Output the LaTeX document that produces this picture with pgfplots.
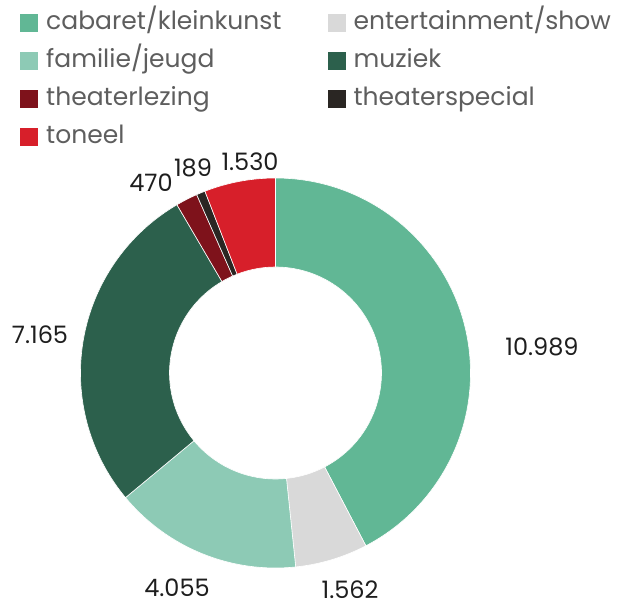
\documentclass[border=0pt]{standalone}
\usepackage{pgfplots}
\usepackage{pgfplotstable}
\pgfplotsset{compat=1.18}
\usepackage{fontspec}
\setmainfont{Poppins}

\definecolor{cCab}{HTML}{61B795}
\definecolor{cEnt}{HTML}{D9D9D9}
\definecolor{cFam}{HTML}{8DCAB5}
\definecolor{cMuz}{HTML}{2C604C}
\definecolor{cLez}{HTML}{7E121B}
\definecolor{cSpe}{HTML}{2A2623}
\definecolor{cTon}{HTML}{D71F2A}
\definecolor{legtext}{HTML}{5E5E5E}
\definecolor{labtext}{HTML}{1E1E1E}

% value per genre, label position (axis units = bp)
\pgfplotstableread{
name                value colour lx  ly
cabaret/kleinkunst  10989 cCab   542 261
entertainment/show  1562  cEnt   350 18
familie/jeugd       4055  cFam   177 20
muziek              7165  cMuz   40  273
theaterlezing       470   cLez   151 425
theaterspecial      189   cSpe   193 440
toneel              1530  cTon   250 446
}\piedata

% cumulative sums (in thousands, to stay inside pgfmath range)
\gdef\cum{0}
\pgfplotstableforeachcolumnelement{value}\of\piedata\as\v{%
  \expandafter\xdef\csname cs\pgfplotstablerow\endcsname{\cum}%
  \pgfmathsetmacro\tmpcum{\cum+\v/1000}%
  \xdef\cum{\tmpcum}%
  \expandafter\xdef\csname ce\pgfplotstablerow\endcsname{\cum}%
}
\let\total\cum

\def\cx{275.5}
\def\cy{235}

\begin{document}
\begin{tikzpicture}
\begin{axis}[
    at={(0,0)}, anchor=south west,
    x=1bp, y=1bp,
    xmin=0, xmax=636, ymin=0, ymax=608,
    hide axis, clip=false,
    legend columns=2,
    legend image code/.code={\path[#1] (0bp,-9bp) rectangle (18bp,9bp);},
    legend style={at={(axis cs:20,598)}, anchor=north west,
        draw=none, fill=none, inner sep=0pt,
        font=\fontsize{25bp}{29bp}\selectfont, text=legtext,
        cells={anchor=west},
        nodes={inner sep=0pt, text height=19bp, text depth=6bp},
        row sep=13bp,
        /tikz/every odd column/.append style={column sep=8bp},
        /tikz/every even column/.append style={column sep=46bp}},
]
\pgfplotsinvokeforeach{0,...,6}{
    \pgfmathsetmacro\aS{90-360*\csname cs#1\endcsname/\total}
    \pgfmathsetmacro\aE{90-360*\csname ce#1\endcsname/\total}
    \pgfplotstablegetelem{#1}{colour}\of\piedata \let\cc\pgfplotsretval
    \pgfplotstablegetelem{#1}{name}\of\piedata \let\nm\pgfplotsretval
    \pgfplotstablegetelem{#1}{value}\of\piedata \let\vv\pgfplotsretval
    \pgfplotstablegetelem{#1}{lx}\of\piedata \let\lx\pgfplotsretval
    \pgfplotstablegetelem{#1}{ly}\of\piedata \let\ly\pgfplotsretval
    \pgfmathsetmacro\aR{\aE+180}
    \edef\tmp{%
      \noexpand\fill[\cc, draw=white, line width=0.6bp]
        (axis cs:\cx,\cy) ++(\aS:195bp)
        arc[start angle=\aS, end angle=\aE, radius=195bp]
        -- ++(\aR:89bp)
        arc[start angle=\aE, end angle=\aS, radius=106bp] -- cycle;
      \noexpand\node[labtext, inner sep=0pt, font=\noexpand\fontsize{24bp}{28bp}\noexpand\selectfont]
        at (axis cs:\lx,\ly)
        {\noexpand\pgfmathprintnumber[assume math mode=true, 1000 sep={.}]{\vv}};
      \noexpand\addlegendimage{fill=\cc, draw=none}
      \noexpand\addlegendentry{\nm}
    }\tmp
}
\end{axis}
\pgfresetboundingbox
\path (0,0) rectangle (636bp,608bp);
\end{tikzpicture}
\end{document}
